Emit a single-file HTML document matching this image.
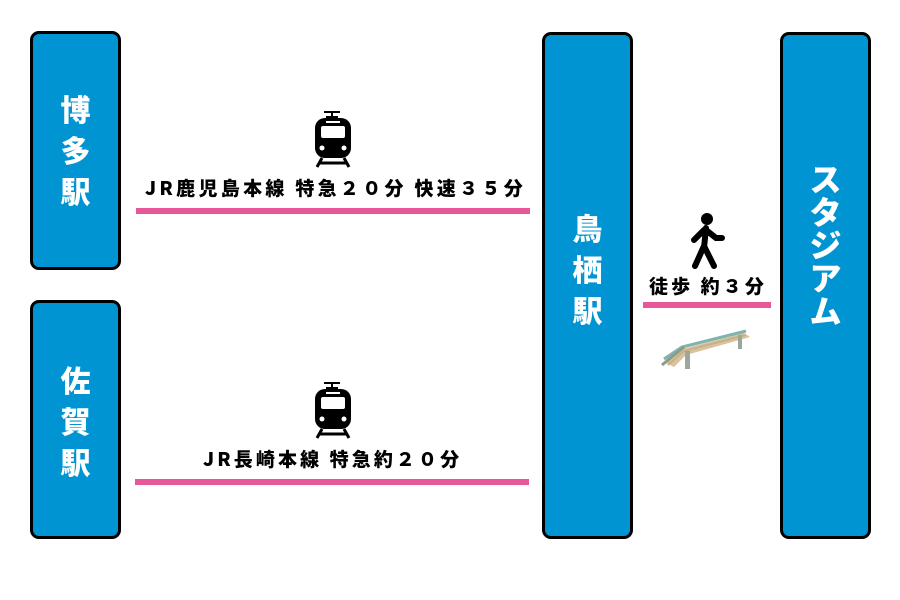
<!DOCTYPE html>
<html><head><meta charset="utf-8"><style>
body{margin:0;width:900px;height:600px;background:#fff;position:relative;overflow:hidden;font-family:"Liberation Sans","Noto Sans CJK JP",sans-serif}
.box{position:absolute;background:#0094d2;border:3px solid #000;border-radius:9px;box-sizing:border-box}
.v{position:absolute;color:#fff;font-weight:900;text-align:center;font-family:"Noto Sans CJK JP",sans-serif}
.v div{height:41px;line-height:41px}
.line{position:absolute;background:#e8579a;height:6px}
.lab{position:absolute;font-weight:900;font-size:19px;color:#000;white-space:nowrap;font-family:"Noto Sans CJK JP",sans-serif;letter-spacing:3.1px;line-height:20px}
</style></head><body>
<div class="box" style="left:30px;top:31px;width:91px;height:239px"></div>
<div class="v" style="left:30px;width:91px;top:88px;font-size:30px"><div>博</div><div>多</div><div>駅</div></div>
<div class="box" style="left:30px;top:300px;width:91px;height:239px"></div>
<div class="v" style="left:30px;width:91px;top:359px;font-size:30px"><div>佐</div><div>賀</div><div>駅</div></div>
<div class="box" style="left:542px;top:32px;width:91px;height:507px"></div>
<div class="v" style="left:542px;width:91px;top:207px;font-size:30px"><div>鳥</div><div>栖</div><div>駅</div></div>
<div class="box" style="left:780px;top:32px;width:91px;height:507px"></div>
<div class="v" style="left:780px;width:91px;top:162px;font-size:32px"><div style="height:33px;line-height:33px">ス</div><div style="height:33px;line-height:33px">タ</div><div style="height:33px;line-height:33px">ジ</div><div style="height:33px;line-height:33px">ア</div><div style="height:33px;line-height:33px">ム</div></div>

<div class="line" style="left:136px;top:208px;width:394px"></div>
<div class="line" style="left:135px;top:479px;width:394px"></div>
<div class="line" style="left:643px;top:302px;width:128px"></div>

<div class="lab" style="left:145px;top:178px;letter-spacing:3.3px">JR鹿児島本線 特急２０分 快速３５分</div>
<div class="lab" style="left:203px;top:449px">JR長崎本線 特急約２０分</div>
<div class="lab" style="left:649px;top:276px">徒歩 約３分</div>

<svg style="position:absolute;left:310px;top:110px" width="46" height="58" viewBox="0 0 46 58">
<path d="M14 2h16M22 2v5M16 7h12" stroke="#000" stroke-width="2" fill="none"/>
<rect x="5" y="8" width="36" height="40" rx="10" fill="#000"/>
<rect x="11" y="16" width="24" height="12" rx="2" fill="#fff"/>
<rect x="16" y="11" width="14" height="2" fill="#fff"/>
<circle cx="12" cy="38" r="2.5" fill="#fff"/><circle cx="34" cy="38" r="2.5" fill="#fff"/>
<path d="M12 48l-5 9M34 48l5 9M10 53h26" stroke="#000" stroke-width="3" fill="none"/>
</svg>
<svg style="position:absolute;left:310px;top:381px" width="46" height="58" viewBox="0 0 46 58">
<path d="M14 2h16M22 2v5M16 7h12" stroke="#000" stroke-width="2" fill="none"/>
<rect x="5" y="8" width="36" height="40" rx="10" fill="#000"/>
<rect x="11" y="16" width="24" height="12" rx="2" fill="#fff"/>
<rect x="16" y="11" width="14" height="2" fill="#fff"/>
<circle cx="12" cy="38" r="2.5" fill="#fff"/><circle cx="34" cy="38" r="2.5" fill="#fff"/>
<path d="M12 48l-5 9M34 48l5 9M10 53h26" stroke="#000" stroke-width="3" fill="none"/>
</svg>
<svg style="position:absolute;left:685px;top:212px" width="44" height="58" viewBox="0 0 44 58">
<circle cx="22" cy="7" r="6" fill="#000"/>
<path d="M21 16l-2 20M19 18l-10 10M21 18l10 8h6M19 34l-9 20M19 34l10 20" stroke="#000" stroke-width="6" stroke-linecap="round" fill="none"/>
</svg>
<svg style="position:absolute;left:660px;top:325px" width="95" height="48" viewBox="0 0 95 48">
<path d="M6 38l16-14 62-16 6 4-64 18-12 12z" fill="#d8c39a"/>
<path d="M4 34l18-12 64-16" stroke="#7fb3b0" stroke-width="3" fill="none"/>
<path d="M8 40l16-14 62-16" stroke="#c7b08a" stroke-width="2" fill="none"/>
<rect x="25" y="26" width="5" height="18" fill="#9aa79a"/>
<rect x="78" y="10" width="4" height="14" fill="#9aa79a"/>
<path d="M2 40l22-18" stroke="#8b9c8a" stroke-width="3"/>
</svg>
</body></html>
